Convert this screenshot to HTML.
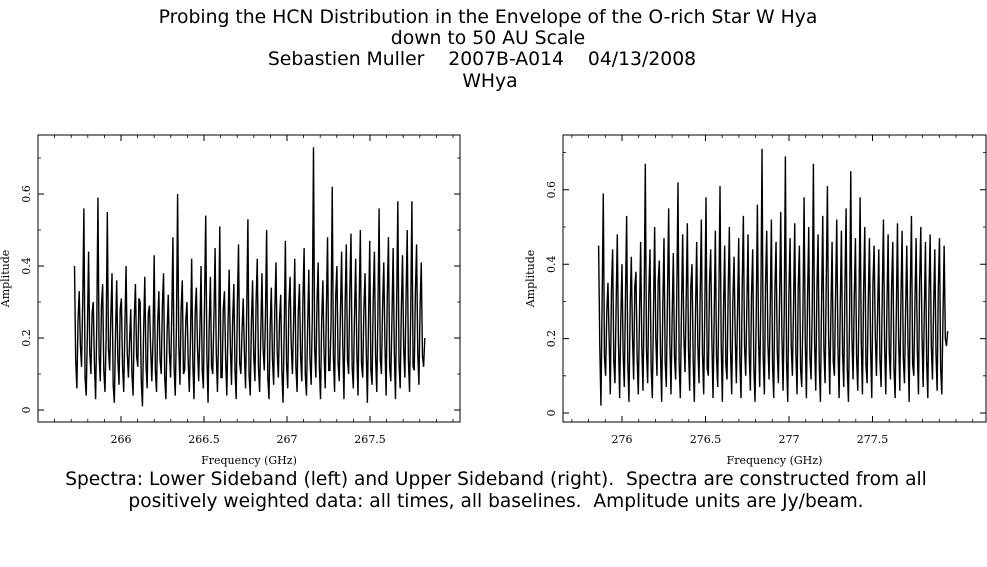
<!DOCTYPE html>
<html><head><meta charset="utf-8"><style>
html,body{margin:0;padding:0;background:#fff;}
svg{display:block;}
.t{font-family:"DejaVu Sans","Liberation Sans",sans-serif;font-size:18.8px;fill:#000;text-anchor:middle;white-space:pre;}
.c{font-family:"DejaVu Sans","Liberation Sans",sans-serif;font-size:18.6px;fill:#000;text-anchor:middle;white-space:pre;}
.ax{font-family:"DejaVu Serif","Liberation Serif",serif;font-size:11px;fill:#000;}
</style></head><body>
<svg id="root" width="987" height="567" viewBox="0 0 987 567">
<text class="t" x="488" y="23">Probing the HCN Distribution in the Envelope of the O-rich Star W Hya</text>
<text class="t" x="488" y="44">down to 50 AU Scale</text>
<text class="t" x="482" y="65">Sebastien Muller    2007B-A014    04/13/2008</text>
<text class="t" x="490" y="87">WHya</text>
<g id="left"></g>
<g id="right"></g>
<text class="c" x="496" y="485">Spectra: Lower Sideband (left) and Upper Sideband (right).  Spectra are constructed from all</text>
<text class="c" x="496" y="507">positively weighted data: all times, all baselines.  Amplitude units are Jy/beam.</text>
</svg>
<script>
const lsbStart = 265.72, lsbEnd = 267.83;
const lsbXTicks = [266, 266.5, 267, 267.5];
const lsbXTickLabels = ["266", "266.5", "267", "267.5"];
const lsbYTicks = [0, 0.2, 0.4, 0.6];
const lsbYTickLabels = ["0", "0.2", "0.4", "0.6"];
const lsbAmp = [
0.40,0.14,0.06,0.25,0.33,0.18,0.12,0.30,0.56,0.09,0.04,0.22,0.44,0.16,0.10,0.27,0.30,0.13,0.03,0.24,
0.59,0.15,0.08,0.29,0.35,0.11,0.05,0.20,0.55,0.17,0.11,0.26,0.38,0.07,0.02,0.21,0.36,0.14,0.07,0.28,
0.31,0.12,0.05,0.23,0.40,0.16,0.09,0.19,0.28,0.10,0.04,0.25,0.35,0.15,0.12,0.31,0.30,0.08,0.01,0.22,
0.37,0.13,0.06,0.27,0.29,0.17,0.08,0.20,0.43,0.11,0.05,0.24,0.33,0.14,0.10,0.29,0.38,0.09,0.03,0.21,
0.32,0.16,0.09,0.26,0.48,0.12,0.04,0.23,0.60,0.18,0.07,0.28,0.36,0.10,0.11,0.25,0.30,0.14,0.05,0.20,
0.42,0.13,0.03,0.27,0.34,0.17,0.08,0.22,0.40,0.11,0.06,0.30,0.54,0.15,0.02,0.24,0.37,0.12,0.10,0.26,
0.45,0.16,0.05,0.21,0.51,0.09,0.09,0.28,0.33,0.14,0.04,0.23,0.39,0.18,0.07,0.25,0.35,0.11,0.03,0.29,
0.46,0.13,0.10,0.22,0.31,0.16,0.06,0.27,0.53,0.10,0.04,0.24,0.36,0.15,0.08,0.30,0.42,0.12,0.05,0.21,
0.38,0.17,0.11,0.26,0.50,0.09,0.03,0.23,0.34,0.14,0.07,0.28,0.41,0.16,0.09,0.25,0.32,0.11,0.02,0.22,
0.47,0.13,0.06,0.29,0.37,0.18,0.10,0.24,0.42,0.12,0.05,0.27,0.35,0.15,0.08,0.31,0.45,0.10,0.04,0.23,
0.39,0.14,0.07,0.26,0.73,0.17,0.09,0.30,0.41,0.12,0.03,0.25,0.36,0.16,0.06,0.28,0.48,0.11,0.11,0.24,
0.62,0.15,0.05,0.32,0.40,0.13,0.08,0.27,0.44,0.18,0.03,0.29,0.46,0.14,0.10,0.33,0.49,0.12,0.06,0.26,
0.42,0.16,0.04,0.30,0.50,0.13,0.09,0.28,0.38,0.17,0.02,0.25,0.47,0.11,0.07,0.31,0.44,0.15,0.05,0.27,
0.56,0.14,0.10,0.29,0.41,0.18,0.04,0.32,0.48,0.12,0.08,0.26,0.45,0.16,0.03,0.30,0.58,0.13,0.06,0.28,
0.43,0.17,0.09,0.31,0.50,0.14,0.05,0.27,0.58,0.12,0.11,0.33,0.46,0.16,0.07,0.29,0.41,0.15,0.12,0.20];

const usbStart = 275.86, usbEnd = 277.95;
const usbXTicks = [276, 276.5, 277, 277.5];
const usbXTickLabels = ["276", "276.5", "277", "277.5"];
const usbYTicks = [0, 0.2, 0.4, 0.6];
const usbYTickLabels = ["0", "0.2", "0.4", "0.6"];
const usbAmp = [
0.45,0.18,0.02,0.30,0.59,0.15,0.10,0.27,0.35,0.20,0.05,0.33,0.44,0.14,0.08,0.29,0.48,0.19,0.04,0.25,
0.40,0.16,0.07,0.31,0.53,0.13,0.03,0.28,0.42,0.21,0.09,0.34,0.38,0.15,0.05,0.26,0.46,0.18,0.06,0.30,
0.67,0.17,0.08,0.32,0.44,0.12,0.04,0.27,0.50,0.20,0.10,0.35,0.41,0.16,0.03,0.29,0.47,0.14,0.07,0.31,
0.55,0.19,0.05,0.26,0.43,0.15,0.09,0.33,0.62,0.13,0.04,0.28,0.48,0.21,0.11,0.30,0.51,0.17,0.06,0.34,
0.40,0.14,0.03,0.27,0.46,0.18,0.08,0.32,0.52,0.16,0.05,0.29,0.58,0.12,0.10,0.35,0.44,0.20,0.04,0.26,
0.49,0.15,0.07,0.31,0.61,0.19,0.03,0.28,0.45,0.13,0.09,0.33,0.50,0.17,0.05,0.30,0.42,0.21,0.08,0.27,
0.47,0.14,0.04,0.34,0.53,0.18,0.10,0.29,0.48,0.16,0.06,0.32,0.44,0.12,0.03,0.26,0.56,0.20,0.07,0.31,
0.71,0.15,0.05,0.35,0.49,0.19,0.09,0.28,0.52,0.13,0.04,0.33,0.46,0.17,0.08,0.30,0.54,0.21,0.06,0.27,
0.69,0.14,0.03,0.32,0.47,0.18,0.10,0.29,0.51,0.16,0.05,0.34,0.45,0.12,0.07,0.26,0.58,0.20,0.04,0.31,
0.50,0.15,0.09,0.28,0.67,0.19,0.06,0.33,0.48,0.13,0.03,0.30,0.53,0.17,0.08,0.35,0.61,0.21,0.05,0.27,
0.46,0.14,0.10,0.32,0.52,0.18,0.04,0.29,0.49,0.16,0.07,0.34,0.55,0.12,0.03,0.26,0.65,0.20,0.09,0.31,
0.47,0.15,0.06,0.28,0.58,0.19,0.05,0.33,0.50,0.13,0.08,0.30,0.47,0.17,0.04,0.35,0.45,0.21,0.10,0.27,
0.44,0.14,0.07,0.32,0.52,0.18,0.05,0.29,0.48,0.16,0.09,0.34,0.46,0.12,0.04,0.26,0.51,0.20,0.06,0.31,
0.49,0.15,0.08,0.28,0.45,0.19,0.03,0.33,0.53,0.13,0.10,0.30,0.47,0.17,0.05,0.35,0.50,0.21,0.07,0.27,
0.46,0.14,0.04,0.32,0.48,0.18,0.09,0.29,0.44,0.16,0.06,0.34,0.47,0.12,0.05,0.26,0.45,0.20,0.18,0.22];

const NS = "http://www.w3.org/2000/svg";
function mk(tag, attrs, parent){const e=document.createElementNS(NS,tag);for(const k in attrs)e.setAttribute(k,attrs[k]);parent.appendChild(e);return e;}

function drawPanel(g, cfg){
  const xs = v => cfg.x0px + (v - cfg.x0v) * cfg.xScale;
  const ys = v => cfg.y0px - v * cfg.yScale;
  const frame = mk("rect",{x:cfg.L,y:cfg.T,width:cfg.R-cfg.L,height:cfg.B-cfg.T,fill:"none",stroke:"#000","stroke-width":1},g);
  
  
  cfg.xt.forEach((v,i)=>{
    const x = xs(v);
    const tk = mk("path",{d:`M${x},${cfg.B}v-6M${x},${cfg.T}v6`,stroke:"#000","stroke-width":1},g);
    
    
    const lb = mk("text",{x:x,y:cfg.B+21,"text-anchor":"middle",class:"ax"},g);
    lb.textContent = cfg.xl[i];
    
    
  });
  for(let v=Math.ceil(cfg.x0v*10)/10 - 1; v<cfg.x0v+(cfg.R-cfg.x0px)/cfg.xScale; v+=0.1){
    const x=xs(v); if(x<=cfg.L||x>=cfg.R) continue;
    const mt = mk("path",{d:`M${x},${cfg.B}v-3M${x},${cfg.T}v3`,stroke:"#000","stroke-width":0.8},g);
    
    
  }
  cfg.yt.forEach((v,i)=>{
    const y = ys(v);
    const tk = mk("path",{d:`M${cfg.L},${y}h6M${cfg.R},${y}h-6`,stroke:"#000","stroke-width":1},g);
    
    
    const lb = mk("text",{x:cfg.L-12,y:y,"text-anchor":"middle",class:"ax",transform:`rotate(-90 ${cfg.L-12} ${y})`,dy:"0.35em"},g);
    lb.textContent = cfg.yl[i];
    
    
  });
  for(let v=0.1; v<0.75; v+=0.2){
    const y=ys(v);
    const mt = mk("path",{d:`M${cfg.L},${y}h3M${cfg.R},${y}h-3`,stroke:"#000","stroke-width":0.8},g);
    
    
  }
  const n = cfg.amp.length;
  let d = "";
  cfg.amp.forEach((a,i)=>{
    const f = cfg.start + (cfg.end-cfg.start)*i/(n-1);
    d += (i?"L":"M") + xs(f).toFixed(2) + "," + ys(a).toFixed(2);
  });
  const line = mk("path",{d:d,fill:"none",stroke:"#000","stroke-width":1.4,"stroke-linejoin":"miter","stroke-miterlimit":2},g);
  
  
  const xt = mk("text",{x:(cfg.L+cfg.R)/2,y:cfg.B+42,"text-anchor":"middle",class:"ax"},g);
  xt.textContent = "Frequency (GHz)";
  
  
  const yc=(cfg.T+cfg.B)/2, yx=cfg.L-29;
  const yt = mk("text",{x:yx,y:yc,"text-anchor":"middle",class:"ax",transform:`rotate(-90 ${yx} ${yc})`},g);
  yt.textContent = "Amplitude";
  
  
}

drawPanel(document.getElementById("left"),{L:38,R:460,T:135,B:422,x0v:266,x0px:121,xScale:166,y0px:410,yScale:360,
  xt:lsbXTicks,xl:lsbXTickLabels,yt:lsbYTicks,yl:lsbYTickLabels,amp:lsbAmp,start:lsbStart,end:lsbEnd});
drawPanel(document.getElementById("right"),{L:563,R:986,T:135,B:422,x0v:276,x0px:622,xScale:167,y0px:413,yScale:372,
  xt:usbXTicks,xl:usbXTickLabels,yt:usbYTicks,yl:usbYTickLabels,amp:usbAmp,start:usbStart,end:usbEnd});
</script>
</body></html>
